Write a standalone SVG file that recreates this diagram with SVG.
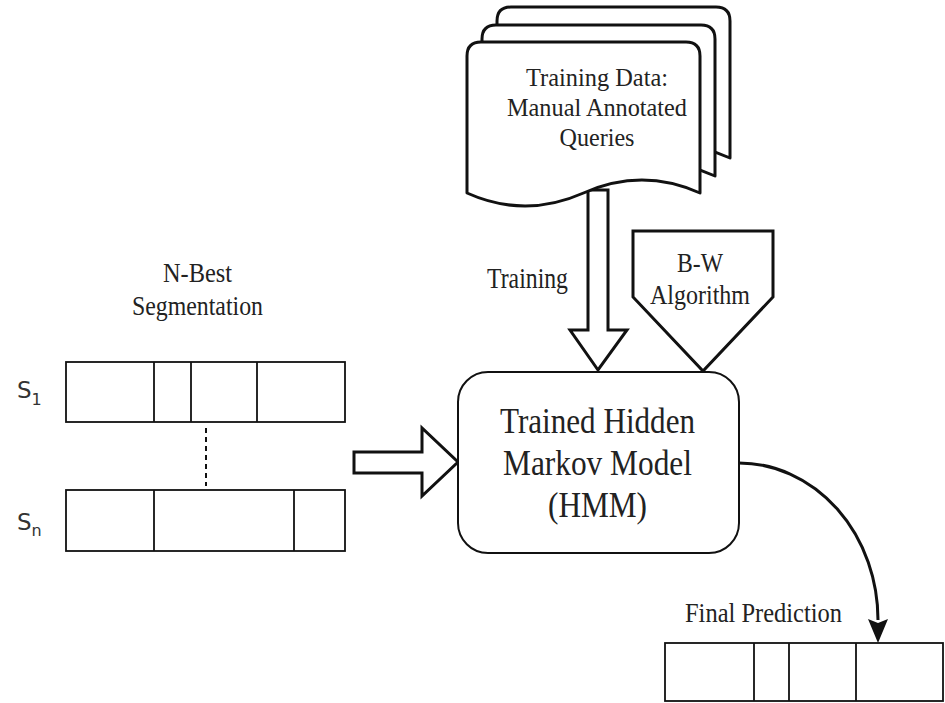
<svg xmlns="http://www.w3.org/2000/svg" width="945" height="703" viewBox="0 0 945 703">
<style>
.bg{fill:#ffffff}
.shape{fill:#ffffff;stroke:#111;stroke-width:2}
.doc{fill:#ffffff;stroke:#111;stroke-width:3;stroke-linejoin:round}
.blk{fill:#ffffff;stroke:#111;stroke-width:3;stroke-linejoin:miter}
.cell{fill:#ffffff;stroke:#111;stroke-width:1.8}
.div{stroke:#111;stroke-width:1.8}
.serif{font-family:"Liberation Serif","Times New Roman",serif;fill:#222;text-anchor:middle}
.sans{font-family:"DejaVu Sans","Liberation Sans",sans-serif;fill:#333}
.conn{fill:none;stroke:#111;stroke-width:3}
</style>
<defs>
<path id="docShape" d="M0,14 Q0,0 14,0 L219,0 Q233,0 233,14 L233,151 Q175,125 116.5,151 Q58,177 0,151 Z"/>
</defs>
<rect class="bg" x="0" y="0" width="945" height="703"/>

<g id="connectors">
  <g id="training-arrow">
    <path class="blk" d="M588,190 L608,190 L608,330 L627,330 L598,370 L570,330 L588,330 Z"/>
  </g>
  <g id="input-arrow">
    <path class="blk" d="M354,452 L422,452 L422,428 L458,462 L422,496 L422,473 L354,473 Z"/>
  </g>
  <path id="output-curve" class="conn" d="M739,463 A139,157 0 0 1 878,620"/>
  <path d="M868,619 L878,623 L888,619 L878,643 Z" fill="#111"/>
  <line id="dots" x1="206" y1="428" x2="206" y2="486" stroke="#111" stroke-width="2" stroke-dasharray="5,4"/>
</g>

<g id="training-data">
  <use href="#docShape" class="doc" transform="translate(497,7)"/>
  <use href="#docShape" class="doc" transform="translate(482,25)"/>
  <use href="#docShape" class="doc" transform="translate(467,42)"/>
  <text class="serif" x="597" y="86" font-size="26" textLength="142" lengthAdjust="spacingAndGlyphs">Training Data:</text>
  <text class="serif" x="597" y="116" font-size="26" textLength="180" lengthAdjust="spacingAndGlyphs">Manual Annotated</text>
  <text class="serif" x="597" y="146" font-size="26" textLength="75" lengthAdjust="spacingAndGlyphs">Queries</text>
</g>

<g id="training-label">
  <text class="serif" x="527.5" y="288" font-size="29" textLength="81" lengthAdjust="spacingAndGlyphs">Training</text>
</g>

<g id="bw-algorithm">
  <path class="blk" d="M633,231 L773,231 L773,297 L703,371 L633,297 Z"/>
  <text class="serif" x="700" y="272" font-size="28" textLength="46" lengthAdjust="spacingAndGlyphs">B-W</text>
  <text class="serif" x="700" y="304" font-size="28" textLength="100" lengthAdjust="spacingAndGlyphs">Algorithm</text>
</g>

<g id="hmm">
  <rect class="shape" x="458" y="372" width="281" height="181" rx="30" ry="30"/>
  <text class="serif" x="597.5" y="433" font-size="36" textLength="195" lengthAdjust="spacingAndGlyphs">Trained Hidden</text>
  <text class="serif" x="597.5" y="475" font-size="36" textLength="189" lengthAdjust="spacingAndGlyphs">Markov Model</text>
  <text class="serif" x="597.5" y="517" font-size="36" textLength="99" lengthAdjust="spacingAndGlyphs">(HMM)</text>
</g>

<g id="nbest-label">
  <text class="serif" x="197.5" y="282" font-size="28" textLength="69" lengthAdjust="spacingAndGlyphs">N-Best</text>
  <text class="serif" x="197.5" y="315" font-size="28" textLength="131" lengthAdjust="spacingAndGlyphs">Segmentation</text>
</g>

<g id="s1">
  <rect class="cell" x="66" y="362" width="279" height="60"/>
  <line class="div" x1="154" y1="362" x2="154" y2="422"/>
  <line class="div" x1="191" y1="362" x2="191" y2="422"/>
  <line class="div" x1="257" y1="362" x2="257" y2="422"/>
  <text class="sans" x="17" y="398" font-size="23">S<tspan font-size="16" dy="7">1</tspan></text>
</g>

<g id="sn">
  <rect class="cell" x="66" y="490" width="279" height="61"/>
  <line class="div" x1="154" y1="490" x2="154" y2="551"/>
  <line class="div" x1="294" y1="490" x2="294" y2="551"/>
  <text class="sans" x="17" y="530" font-size="23">S<tspan font-size="16" dy="6">n</tspan></text>
</g>

<g id="final-prediction">
  <text class="serif" x="763.5" y="622" font-size="27" textLength="157" lengthAdjust="spacingAndGlyphs">Final Prediction</text>
  <rect class="cell" x="665" y="643" width="278" height="58"/>
  <line class="div" x1="754" y1="643" x2="754" y2="701"/>
  <line class="div" x1="789" y1="643" x2="789" y2="701"/>
  <line class="div" x1="856" y1="643" x2="856" y2="701"/>
</g>
</svg>
